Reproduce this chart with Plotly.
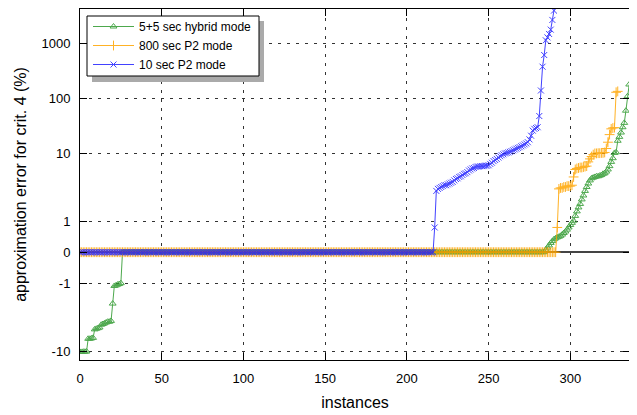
import math
import plotly.graph_objects as go

# ---------------- data ----------------
# 5+5 sec hybrid mode: instances 0..336, sorted error values
green_neg = [-10.4, -10.4, -10.3, -10.3, -10.2,
             -6.6, -6.6, -6.5, -6.4,
             -4.8, -4.7, -4.6, -4.5,
             -4.1, -4.0, -3.9, -3.8, -3.7, -3.7, -3.6,
             -2.0,
             -1.1, -1.08, -1.05, -1.03, -1.0]
green_zero_count = 259
green_pos = [0.08, 0.15, 0.22, 0.3, 0.36, 0.42, 0.45, 0.48, 0.5, 0.53,
             0.57, 0.62, 0.67, 0.73, 0.8, 0.88, 0.95, 1.02, 1.2, 1.4,
             1.6, 1.8, 2.1, 2.4, 2.8, 3.2, 3.6, 4.0, 4.3, 4.4,
             4.5, 4.6, 4.6, 4.7, 4.8, 5.0, 5.1, 5.4, 5.8, 6.5,
             7.5, 8.5, 10.2, 10.5, 17.0, 20.0, 24.0, 30.0, 36.0, 60.0,
             110.0, 180.0]
green_vals = green_neg + [0.0] * green_zero_count + green_pos

# 800 sec P2 mode: instances 0..329
orange_zero_count = 292
orange_pos = [0.8, 3.0, 3.1, 3.1, 3.2, 3.2, 3.3, 3.3, 3.3, 3.4,
              4.5, 5.8, 6.0, 6.1, 6.2, 6.2, 6.3, 6.4, 6.5, 7.5,
              8.3, 9.0, 9.6, 10.0, 10.0, 10.1, 10.1, 10.2, 10.2, 10.4,
              12.3, 16.0, 22.0, 28.0, 29.0, 29.5, 130.0, 135.0]
orange_vals = [0.0] * orange_zero_count + orange_pos

# 10 sec P2 mode: instances 0..292 (last ones leave the plot)
blue_zero_count = 217
blue_pos = [0.8, 2.8, 3.0, 3.1, 3.2, 3.3, 3.4, 3.4, 3.5, 3.6,
            3.7, 3.8, 4.0, 4.2, 4.3, 4.5, 4.6, 4.8, 5.0, 5.1,
            5.3, 5.6, 5.8, 6.0, 6.1, 6.3, 6.4, 6.4, 6.5, 6.5,
            6.5, 6.6, 6.6, 6.7, 7.0, 7.3, 7.7, 8.0, 8.3, 8.7,
            9.1, 9.4, 9.7, 10.0, 10.2, 10.4, 10.7, 11.0, 11.4, 11.8,
            12.2, 12.6, 13.0, 13.5, 14.0, 14.6, 15.2, 16.0, 18.0, 21.0,
            26.0, 28.0, 29.0, 30.0, 48.0, 140.0, 380.0, 620.0, 1150.0, 1300.0,
            1500.0, 1800.0, 2700.0, 4000.0, 6000.0, 9000.0]
blue_vals = [0.0] * blue_zero_count + blue_pos

series_names = ["5+5 sec hybrid mode", "800 sec P2 mode", "10 sec P2 mode"]
series_colors = ["#2f9a2f", "#ffa500", "#2222ff"]
y_tick_values = [-10, -1, 0, 1, 10, 100, 1000]
x_tick_values = [0, 50, 100, 150, 200, 250, 300]


# ---------------- scale: linear near zero, logarithmic beyond ----------------
def T(v):
    a = abs(v)
    if a <= 1:
        r = a * 31.0
    elif a <= 10:
        r = 31.0 + 68.0 * math.log10(a)
    else:
        r = 99.0 + 55.0 * math.log10(a / 10.0)
    return r if v >= 0 else -r


fig = go.Figure()
markers = [
    dict(symbol="triangle-up-open", size=6, line=dict(width=1)),
    dict(symbol="cross-thin-open", size=7, line=dict(width=1, color=series_colors[1])),
    dict(symbol="x-thin-open", size=6, line=dict(width=1, color=series_colors[2])),
]
for name, vals, col, mk in zip(series_names, [green_vals, orange_vals, blue_vals],
                               series_colors, markers):
    mk = dict(mk)
    mk["color"] = col
    fig.add_trace(go.Scatter(
        x=list(range(len(vals))), y=[T(v) for v in vals],
        mode="lines+markers", name=name,
        line=dict(color=col, width=1), marker=mk, opacity=0.85,
    ))

font = dict(family="Liberation Sans, Arial, sans-serif", size=13, color="black")
axis_common = dict(
    showline=True, linecolor="black", linewidth=1, mirror="ticks",
    ticks="inside", ticklen=7, tickcolor="black", automargin=False,
    showgrid=True, gridcolor="#333333", griddash="3px,6px", gridwidth=1,
)

# page body adds an 8px offset, so the figure is 8px smaller than the window
W, H = 629, 407
ML, MR, MT, MB = 72, 7, 1, 55
PW, PH = W - ML - MR, H - MT - MB


def px_x(x):  # window pixel -> paper x
    return (x - 8 - ML) / PW


def px_y(y):  # window pixel -> paper y
    return 1 - (y - 8 - MT) / PH


fig.update_layout(
    width=W, height=H,
    margin=dict(l=ML, r=MR, t=MT, b=MB),
    plot_bgcolor="white", paper_bgcolor="white",
    font=font,
    showlegend=True,
    legend=dict(x=px_x(88), y=px_y(12), xanchor="left", yanchor="top",
                bgcolor="rgba(0,0,0,0)", borderwidth=0, itemwidth=41,
                font=dict(size=12), tracegroupgap=0),
    xaxis=dict(range=[0, 336.5], tickvals=x_tick_values,
               ticklabelstandoff=6,
               title=dict(text="instances", standoff=12),
               zeroline=False, **axis_common),
    yaxis=dict(range=[T(-10) - 9, T(1000) + 34.7],
               tickvals=[T(v) for v in y_tick_values],
               ticktext=[str(v) for v in y_tick_values],
               ticklabelstandoff=6,
               title=dict(text="approximation error for crit. 4 (%)", standoff=10),
               zeroline=True, zerolinecolor="#444444", zerolinewidth=1.5,
               **axis_common),
)

# legend shadow and legend frame
fig.add_shape(type="rect", xref="paper", yref="paper", layer="above",
              x0=px_x(92), x1=px_x(264), y0=px_y(82), y1=px_y(21),
              fillcolor="#aaaaaa", line=dict(width=0))
fig.add_shape(type="rect", xref="paper", yref="paper", layer="above",
              x0=px_x(87), x1=px_x(259), y0=px_y(76), y1=px_y(16),
              fillcolor="white", line=dict(width=1, color="black"))

fig.write_html("out.html")
